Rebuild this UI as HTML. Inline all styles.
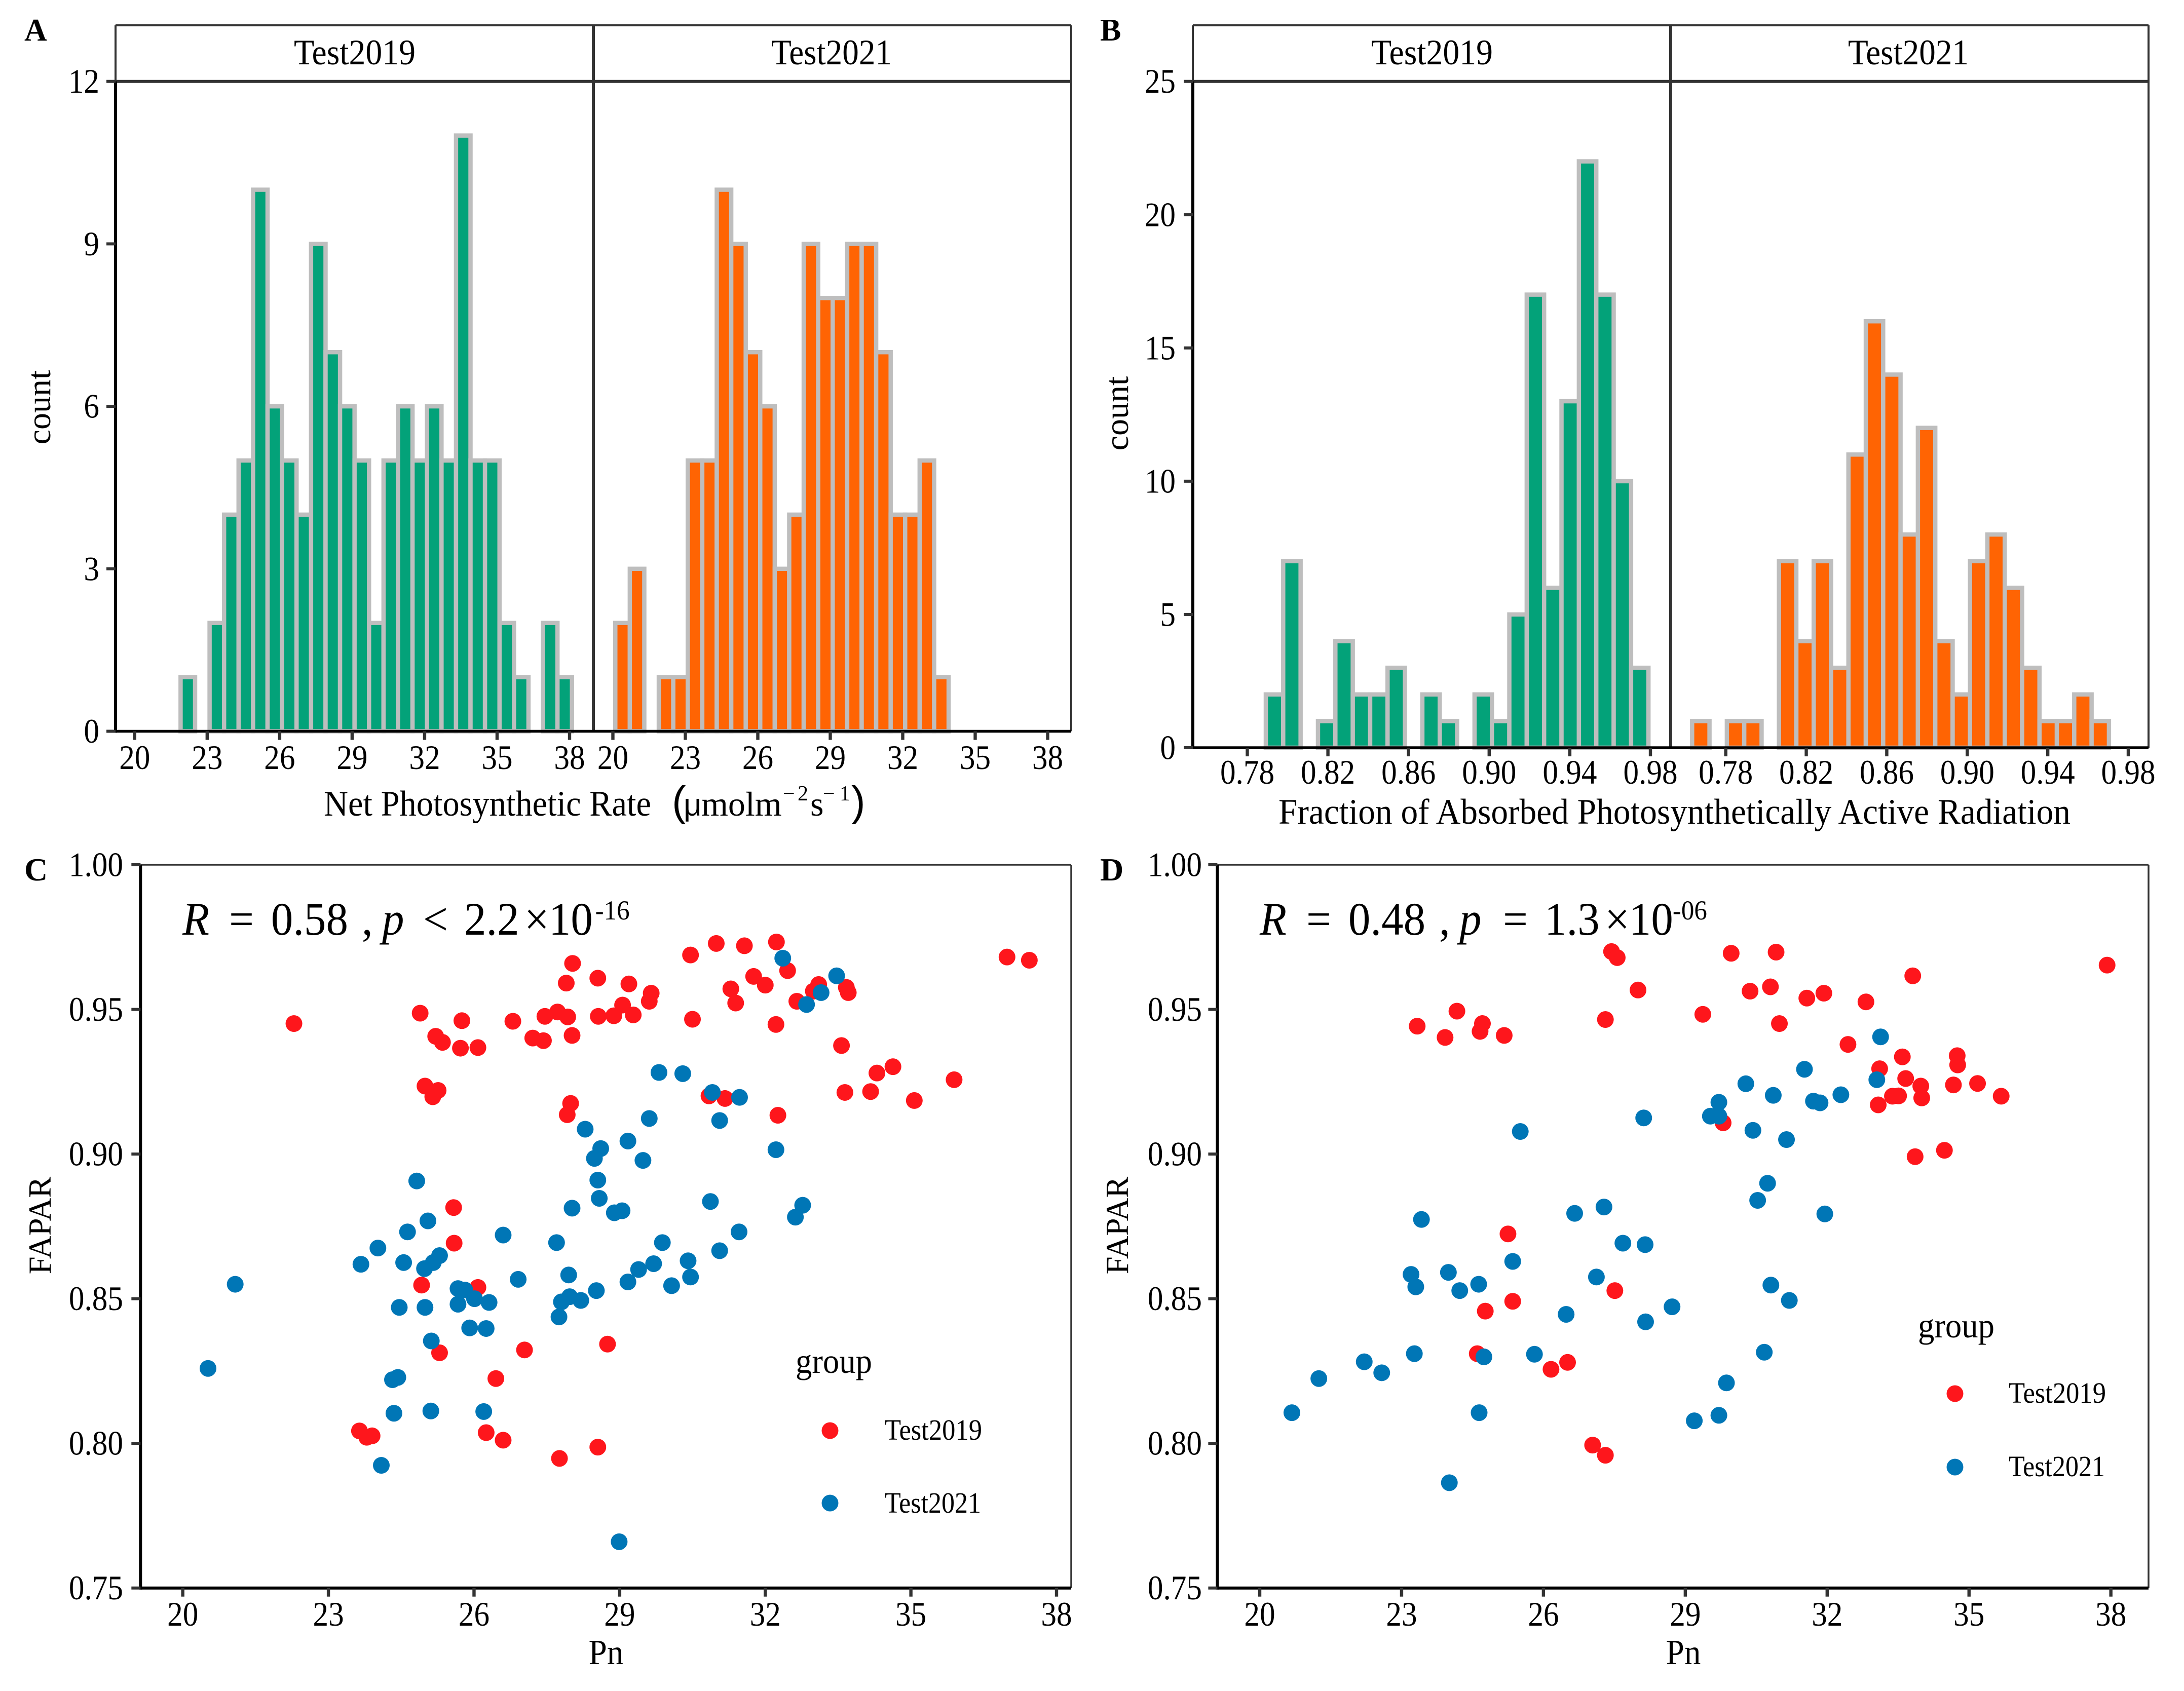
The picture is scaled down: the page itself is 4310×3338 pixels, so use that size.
<!DOCTYPE html>
<html lang="en">
<head>
<meta charset="utf-8">
<title>Histograms and scatter plots of Pn and FAPAR</title>
<style>
html,body{margin:0;padding:0;background:#fff;}
svg{display:block;}
text{font-family:"Liberation Serif","Times New Roman",serif;fill:#000;}
.sans{font-family:"Liberation Sans",Arial,sans-serif;}
</style>
</head>
<body>
<svg id="figure" xmlns="http://www.w3.org/2000/svg" width="4310" height="3338" viewBox="0 0 4310 3338">
  <rect x="0" y="0" width="4310" height="3338" fill="#fff"/>
  <g id="layer-marks"></g>

  <!-- panel letters -->
  <text x="48" y="80" font-size="62" font-weight="bold">A</text>
  <text x="2171" y="80" font-size="62" font-weight="bold">B</text>
  <text x="48" y="1738" font-size="64" font-weight="bold">C</text>
  <text x="2171" y="1738" font-size="64" font-weight="bold">D</text>

  <!-- strips -->
  <text x="700" y="127" font-size="71" text-anchor="middle" textLength="240" lengthAdjust="spacingAndGlyphs">Test2019</text>
  <text x="1641" y="127" font-size="71" text-anchor="middle" textLength="238" lengthAdjust="spacingAndGlyphs">Test2021</text>
  <text x="2826" y="127" font-size="71" text-anchor="middle" textLength="240" lengthAdjust="spacingAndGlyphs">Test2019</text>
  <text x="3766" y="127" font-size="71" text-anchor="middle" textLength="238" lengthAdjust="spacingAndGlyphs">Test2021</text>

  <!-- axis titles -->
  <text transform="translate(99,804) rotate(-90)" font-size="66" text-anchor="middle">count</text>
  <text transform="translate(2226,816) rotate(-90)" font-size="66" text-anchor="middle">count</text>
  <text y="1610" font-size="68"><tspan x="639" font-size="71" textLength="646" lengthAdjust="spacingAndGlyphs">Net Photosynthetic Rate</tspan><tspan class="sans" x="1326" font-size="83">(</tspan><tspan class="sans" x="1349" font-size="62">μ</tspan><tspan x="1384">molm</tspan><tspan x="1545" y="1580" font-size="42">−</tspan><tspan x="1574" y="1580" font-size="42">2</tspan><tspan x="1599" y="1610">s</tspan><tspan x="1624" y="1580" font-size="42">−</tspan><tspan x="1657" y="1580" font-size="42">1</tspan><tspan class="sans" x="1680" y="1610" font-size="83">)</tspan></text>
  <text x="2523" y="1626" font-size="71" textLength="1563" lengthAdjust="spacingAndGlyphs">Fraction of Absorbed Photosynthetically Active Radiation</text>
  <text transform="translate(100,2419) rotate(-90)" font-size="63" text-anchor="middle">FAPAR</text>
  <text transform="translate(2226,2419) rotate(-90)" font-size="63" text-anchor="middle">FAPAR</text>
  <text transform="translate(1196,3285) scale(0.93,1)" font-size="70" text-anchor="middle">Pn</text>
  <text transform="translate(3322,3285) scale(0.93,1)" font-size="70" text-anchor="middle">Pn</text>

  <!-- correlation annotations -->
  <text transform="translate(0,1845) scale(0.945,1)" y="0" font-size="92"><tspan x="381" font-style="italic">R</tspan><tspan x="478.3">=</tspan><tspan x="566">0.58</tspan><tspan x="755.6">,</tspan><tspan x="797.9" font-style="italic">p</tspan><tspan x="883.6">&lt;</tspan><tspan x="969.3">2.2</tspan><tspan x="1095">×</tspan><tspan x="1146">10</tspan><tspan x="1243" y="-30" font-size="54">-16</tspan></text>
  <text transform="translate(0,1845) scale(0.945,1)" y="0" font-size="92"><tspan x="2630.7" font-style="italic">R</tspan><tspan x="2728">=</tspan><tspan x="2815.8">0.48</tspan><tspan x="3005.3">,</tspan><tspan x="3047.6" font-style="italic">p</tspan><tspan x="3138.6">=</tspan><tspan x="3225.4">1.3</tspan><tspan x="3351.3">×</tspan><tspan x="3402">10</tspan><tspan x="3493" y="-30" font-size="54">-06</tspan></text>

  <!-- legends -->
  <g>
    <text x="1570" y="2710" font-size="69" textLength="151" lengthAdjust="spacingAndGlyphs">group</text>
    <circle cx="1638" cy="2824" r="16.5" fill="#fe161c"/>
    <text x="1746" y="2842" font-size="58" textLength="192" lengthAdjust="spacingAndGlyphs">Test2019</text>
    <circle cx="1638" cy="2967" r="16.5" fill="#0076b6"/>
    <text x="1746" y="2986" font-size="58" textLength="190" lengthAdjust="spacingAndGlyphs">Test2021</text>
  </g>
  <g>
    <text x="3785" y="2640" font-size="69" textLength="151" lengthAdjust="spacingAndGlyphs">group</text>
    <circle cx="3858" cy="2751" r="16.5" fill="#fe161c"/>
    <text x="3964" y="2769" font-size="58" textLength="192" lengthAdjust="spacingAndGlyphs">Test2019</text>
    <circle cx="3858" cy="2896" r="16.5" fill="#0076b6"/>
    <text x="3964" y="2914" font-size="58" textLength="190" lengthAdjust="spacingAndGlyphs">Test2021</text>
  </g>
</svg>

<script>
// ---- Histogram A: Net photosynthetic rate ----
const histAFirstBin = 20.4;
const histABinWidth = 0.6;
const histA2019 = [0,0,0,1,0,2,4,5,10,6,5,4,9,7,6,5,2,5,6,5,6,5,11,5,5,2,1,0,2,1];
const histA2021 = [2,3,0,1,1,5,5,10,9,7,6,3,4,9,8,8,9,9,7,4,4,5,1,0,0,0,0,0,0,0];
const histAXTicks = [20,23,26,29,32,35,38];
const histAYTicks = [0,3,6,9,12];

// ---- Histogram B: FAPAR ----
const histBFirstBin = 0.7676;
const histBBinWidth = 0.00863;
const histB2019 = [0,0,0,2,7,0,1,4,2,2,3,0,2,1,0,2,1,5,17,6,13,22,17,10,3];
const histB2021 = [1,0,1,1,0,7,4,7,3,11,16,14,8,12,4,2,7,8,6,3,1,1,2,1,0];
const histBXTicks = ['0.78','0.82','0.86','0.90','0.94','0.98'];
const histBYTicks = [0,5,10,15,20,25];

// ---- Scatter C ----
const scatterC2019Pn = [22.29,24.89,25.21,25.35,25.72,25.75,26.08,26.80,27.21,27.43,27.46,27.72,27.93,27.90,28.03,28.02,28.55,28.56,28.88,29.06,29.28,29.19,29.61,29.65,30.46,30.50,30.99,31.57,31.29,31.39,31.76,32.00,32.23,32.46,32.22,32.65,32.99,33.10,33.67,33.71,33.57,34.30,34.63,33.64,34.17,35.07,35.89,36.98,37.44,24.99,25.15,25.26,27.99,27.92,30.84,31.17,32.26,25.58,25.59,24.92,26.08,25.29,27.04,28.75,26.45,23.64,23.79,23.90,26.25,26.60,27.76,28.55];
const scatterC2019Fapar = [.9451,.9487,.9407,.9386,.9366,.9461,.9368,.9459,.9401,.9392,.9476,.9491,.9474,.9591,.9659,.9410,.9608,.9476,.9478,.9515,.9481,.9588,.9528,.9556,.9688,.9466,.9728,.9720,.9571,.9522,.9614,.9584,.9733,.9634,.9448,.9528,.9563,.9586,.9576,.9558,.9375,.9280,.9302,.9213,.9216,.9185,.9257,.9681,.9670,.9235,.9198,.9220,.9175,.9136,.9201,.9192,.9134,.8815,.8692,.8547,.8539,.8313,.8323,.8343,.8224,.8043,.8021,.8026,.8037,.8011,.7948,.7987];
const scatterC2021Pn = [20.52,21.08,23.67,24.02,24.55,24.63,24.82,25.05,24.98,25.16,25.29,24.46,24.99,25.12,24.32,24.43,24.35,25.11,24.09,25.67,25.81,25.67,26.01,26.31,25.91,26.25,26.20,26.60,26.91,27.70,27.95,27.80,27.97,28.20,27.75,28.52,28.02,28.58,28.55,28.48,28.61,28.29,28.89,29.05,29.17,29.48,29.61,29.81,30.30,30.91,31.47,31.06,32.22,29.17,29.39,29.70,29.88,30.07,30.41,30.46,31.06,31.46,30.87,32.62,32.77,32.36,32.85,33.15,33.47,28.99];
const scatterC2021Fapar = [.8259,.8550,.8619,.8675,.8625,.8731,.8907,.8769,.8604,.8625,.8649,.8470,.8470,.8354,.8220,.8228,.8104,.8112,.7924,.8535,.8530,.8481,.8500,.8487,.8399,.8397,.8110,.8720,.8567,.8694,.8582,.8489,.8507,.8494,.8437,.8528,.8813,.8847,.8910,.8985,.9019,.9086,.8797,.8804,.9045,.8978,.9123,.9282,.9278,.9213,.9196,.9116,.9015,.8558,.8601,.8621,.8694,.8545,.8631,.8575,.8666,.8731,.8836,.8782,.8823,.9677,.9517,.9558,.9616,.7660];

// ---- Scatter D ----
const scatterD2019Pn = [23.33,23.92,24.17,24.66,24.71,25.17,27.44,27.56,27.31,28.00,29.37,29.97,30.37,30.80,30.92,30.99,31.57,31.93,32.82,32.44,33.81,37.92,33.11,33.59,33.66,34.75,34.76,33.98,34.00,33.38,33.51,33.08,34.67,35.18,35.68,29.80,34.48,33.86,25.25,25.35,24.77,27.51,24.60,26.16,26.51,27.04,27.31];
const scatterD2019Fapar = [.9442,.9403,.9494,.9424,.9451,.9410,.9700,.9679,.9465,.9567,.9483,.9694,.9563,.9578,.9698,.9451,.9539,.9556,.9526,.9379,.9616,.9653,.9295,.9336,.9261,.9340,.9308,.9235,.9194,.9200,.9201,.9170,.9239,.9244,.9200,.9108,.9013,.8991,.8724,.8491,.8457,.8528,.8310,.8256,.8280,.7994,.7959];
const scatterD2021Pn = [20.68,21.25,22.21,22.58,23.27,23.20,23.30,23.42,23.99,24.23,24.63,24.74,24.64,24.01,25.35,25.51,25.81,26.48,26.66,27.28,27.12,27.68,28.15,28.16,28.12,28.72,29.19,29.71,29.87,30.67,30.81,31.20,30.53,30.74,31.95,29.53,29.71,29.71,30.43,31.14,30.28,30.86,31.52,31.71,31.85,32.29,33.05,33.13];
const scatterD2021Fapar = [.8106,.8224,.8282,.8244,.8310,.8584,.8541,.8774,.8591,.8528,.8550,.8299,.8106,.7864,.8629,.9078,.8308,.8446,.8795,.8817,.8575,.8692,.8687,.8420,.9125,.8472,.8078,.8097,.8209,.8315,.8547,.8494,.8840,.8899,.8793,.9131,.9131,.9179,.9082,.9050,.9243,.9203,.9293,.9183,.9177,.9205,.9257,.9405];
const scatterXTicks = [20,23,26,29,32,35,38];
const scatterYTicks = ['0.75','0.80','0.85','0.90','0.95','1.00'];

// ---- Drawing ----
const NS = 'http://www.w3.org/2000/svg';
const root = document.getElementById('layer-marks');
const COLOR_GREEN = '#03a279', COLOR_ORANGE = '#ff6403', COLOR_EDGE = '#bebebe';
const COLOR_RED = '#fe161c', COLOR_BLUE = '#0076b6', COLOR_TICK = '#333333';

function make(parent, tag, props) {
  const el = document.createElementNS(NS, tag);
  for (const k in props) el.setAttribute(k, props[k]);
  parent.appendChild(el);
  return el;
}
function linear(d0, d1, r0, r1) {
  return function (v) { return r0 + (Number(v) - d0) * (r1 - r0) / (d1 - d0); };
}
function drawTickLabel(parent, x, y, txt, anchor) {
  const t = make(parent, 'text', { transform: 'translate(' + x + ',' + y + ') scale(0.9,1)', 'font-size': 68, 'text-anchor': anchor });
  t.textContent = txt;
  return t;
}
function drawXAxisTicks(parent, ticks, sx, yAxis, yLabel) {
  ticks.forEach(function (tv) {
    const tick = make(parent, 'rect', { x: sx(tv) - 3.2, y: yAxis, width: 6.4, height: 17, fill: COLOR_TICK });
    
    
    const lab = drawTickLabel(parent, sx(tv), yLabel, String(tv), 'middle');
    
    
  });
}
function drawYAxisTicks(parent, ticks, sy, xAxis, xLabel) {
  ticks.forEach(function (tv) {
    const tick = make(parent, 'rect', { x: xAxis - 18, y: sy(tv) - 3, width: 18, height: 6, fill: COLOR_TICK });
    
    
    const lab = drawTickLabel(parent, xLabel, sy(tv) + 22.5, String(tv), 'end');
    
    
  });
}
function drawFrameLine(parent, x1, y1, x2, y2, color, w) {
  const ln = make(parent, 'line', { x1: x1, y1: y1, x2: x2, y2: y2, stroke: color, 'stroke-width': w });
  
  
}
function drawBars(parent, counts, first, width, sx, sy, fill) {
  const strokeW = 8.5;
  counts.forEach(function (c, i) {
    const center = first + i * width;
    const x0 = sx(center - width / 2), x1 = sx(center + width / 2);
    const yTop = sy(c), yBase = sy(0);
    const bar = make(parent, 'rect', { x: x0, y: yTop, width: x1 - x0, height: yBase - yTop, fill: fill, stroke: COLOR_EDGE, 'stroke-width': strokeW });
    
    
  });
}
function drawFacetHist(spec) {
  const g = make(root, 'g', {});
  
  
  const sy = linear(0, spec.yMax, spec.bottom, spec.top);
  const gMarks = make(g, 'g', {});
  
  
  const sx1 = linear(spec.xA, spec.xB, spec.f1a, spec.f1b);
  const sx2 = linear(spec.xA, spec.xB, spec.f2a, spec.f2b);
  drawBars(gMarks, spec.series1, spec.first, spec.width, sx1, sy, COLOR_GREEN);
  drawBars(gMarks, spec.series2, spec.first, spec.width, sx2, sy, COLOR_ORANGE);
  // strip
  drawFrameLine(g, spec.left, spec.stripTop, spec.right, spec.stripTop, COLOR_TICK, 4);
  drawFrameLine(g, spec.left, spec.stripTop, spec.left, spec.top, COLOR_TICK, 4);
  drawFrameLine(g, spec.right, spec.stripTop, spec.right, spec.bottom, COLOR_TICK, 4);
  drawFrameLine(g, spec.left, spec.top, spec.right, spec.top, COLOR_TICK, 6);
  drawFrameLine(g, spec.mid, spec.stripTop, spec.mid, spec.bottom, COLOR_TICK, 6);
  // axis lines
  drawFrameLine(g, spec.left, spec.top, spec.left, spec.bottom + 3, '#000', 6);
  drawFrameLine(g, spec.left, spec.bottom, spec.right, spec.bottom, '#000', 5.5);
  drawYAxisTicks(g, spec.yTicks, sy, spec.left, spec.yLabelX);
  drawXAxisTicks(g, spec.xTicks, sx1, spec.bottom, spec.xLabelY);
  drawXAxisTicks(g, spec.xTicks, sx2, spec.bottom, spec.xLabelY);
}
function drawPoints(parent, xs, ys, sx, sy, color, name) {
  xs.forEach(function (xv, i) {
    const pt = make(parent, 'circle', { cx: sx(xv), cy: sy(ys[i]), r: 16.5, fill: color });
    
    
  });
}
function drawScatter(spec) {
  const g = make(root, 'g', {});
  
  
  const sx = linear(20, 38, spec.x20, spec.x38);
  const sy = linear(0.75, 1, spec.bottom, spec.top);
  drawPoints(g, spec.x19, spec.y19, sx, sy, COLOR_RED, 'point-test2019');
  drawPoints(g, spec.x21, spec.y21, sx, sy, COLOR_BLUE, 'point-test2021');
  drawFrameLine(g, spec.left, spec.top, spec.right, spec.top, COLOR_TICK, 3.5);
  drawFrameLine(g, spec.right, spec.top, spec.right, spec.bottom, COLOR_TICK, 3.5);
  drawFrameLine(g, spec.left, spec.top, spec.left, spec.bottom + 3, '#000', 6);
  drawFrameLine(g, spec.left, spec.bottom, spec.right, spec.bottom, '#000', 6);
  drawYAxisTicks(g, scatterYTicks, sy, spec.left, spec.yLabelX);
  drawXAxisTicks(g, scatterXTicks, sx, spec.bottom, spec.xLabelY);
}

drawFacetHist({
  name: 'panel-a-histogram', first: histAFirstBin, width: histABinWidth,
  series1: histA2019, series2: histA2021, xTicks: histAXTicks, yTicks: histAYTicks, yMax: 12,
  xA: 20, xB: 38, f1a: 265.8, f1b: 1124, f2a: 1209.5, f2b: 2067.5,
  left: 228, mid: 1171, right: 2114, stripTop: 50, top: 160.7, bottom: 1443.5,
  yLabelX: 196, xLabelY: 1518
});
drawFacetHist({
  name: 'panel-b-histogram', first: histBFirstBin, width: histBBinWidth,
  series1: histB2019, series2: histB2021, xTicks: histBXTicks, yTicks: histBYTicks, yMax: 25,
  xA: 0.78, xB: 0.98, f1a: 2461.5, f1b: 3257, f2a: 3405.7, f2b: 4200,
  left: 2354, mid: 3297, right: 4240, stripTop: 50, top: 160.7, bottom: 1476,
  yLabelX: 2320, xLabelY: 1547
});
drawScatter({
  name: 'panel-c-scatter', x19: scatterC2019Pn, y19: scatterC2019Fapar, x21: scatterC2021Pn, y21: scatterC2021Fapar,
  x20: 360.7, x38: 2085, left: 277.3, right: 2114, top: 1707, bottom: 3134.7, yLabelX: 243, xLabelY: 3209
});
drawScatter({
  name: 'panel-d-scatter', x19: scatterD2019Pn, y19: scatterD2019Fapar, x21: scatterD2021Pn, y21: scatterD2021Fapar,
  x20: 2486, x38: 4165.7, left: 2402.4, right: 4240, top: 1707, bottom: 3134.7, yLabelX: 2372, xLabelY: 3209
});
</script>
</body>
</html>
